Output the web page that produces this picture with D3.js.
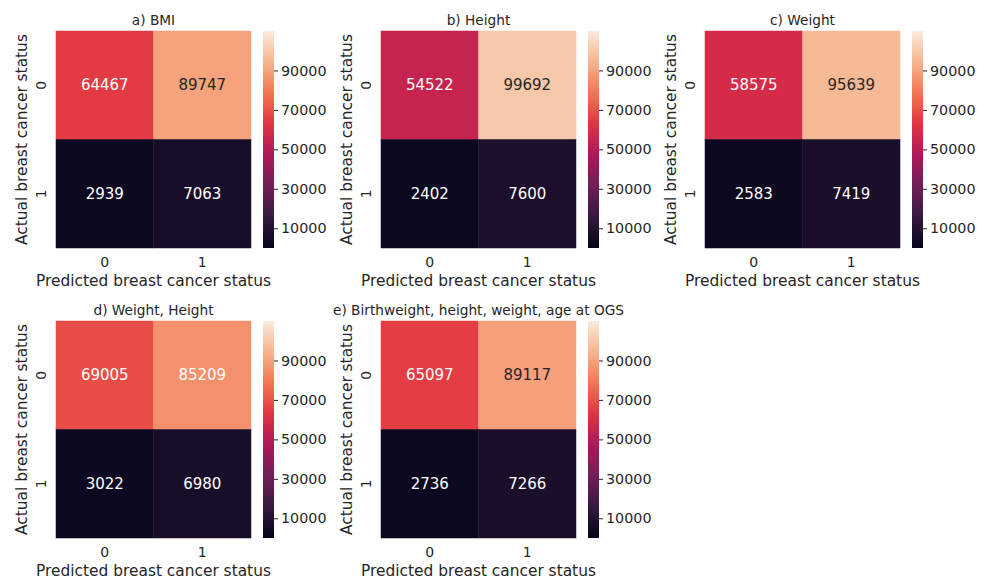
<!DOCTYPE html>
<html>
<head>
<meta charset="utf-8">
<script src="https://cdn.jsdelivr.net/npm/d3@7"></script>
<style>
  html, body { margin: 0; padding: 0; background: #ffffff; }
  svg { display: block; font-family: "DejaVu Sans", sans-serif; }
</style>
</head>
<body>
<svg id="chart" width="988" height="580"></svg>
<script>
// ---- data ----
const panelTitles = ["a) BMI", "b) Height", "c) Weight", "d) Weight, Height", "e) Birthweight, height, weight, age at OGS"];
const actualLabels = ["0", "1"];
const predictedLabels = ["0", "1"];
// each: [actual0-pred0, actual0-pred1, actual1-pred0, actual1-pred1]
const bmiValues = [64467, 89747, 2939, 7063];
const heightValues = [54522, 99692, 2402, 7600];
const weightValues = [58575, 95639, 2583, 7419];
const weightHeightValues = [69005, 85209, 3022, 6980];
const combinedValues = [65097, 89117, 2736, 7266];
const colorbarTicks = [10000, 30000, 50000, 70000, 90000];
const colorDomain = [0, 110000];
const xAxisLabel = "Predicted breast cancer status";
const yAxisLabel = "Actual breast cancer status";

const allValues = [bmiValues, heightValues, weightValues, weightHeightValues, combinedValues];

// seaborn "rocket" colormap approximation
const rocketStops = ["#03051a", "#35193e", "#701f57", "#ad1759", "#e13342", "#f37651", "#f6b48f", "#faebdd"];
const rocket = d3.piecewise(d3.interpolateRgb, rocketStops);
const color = d3.scaleSequential(rocket).domain(colorDomain);

const svg = d3.select("#chart");
const textColor = "#262626";

const W = 195, H = 217;
const positions = [
  [56, 31], [381, 31], [705, 31],
  [56, 321], [381, 321]
];

// gradient
const defs = svg.append("defs");
const grad = defs.append("linearGradient").attr("id", "cbgrad")
  .attr("x1", 0).attr("y1", 1).attr("x2", 0).attr("y2", 0);
d3.range(0, 1.0001, 0.02).forEach(t => {
  grad.append("stop").attr("offset", t).attr("stop-color", rocket(t));
});

function luminance(c) {
  const rgb = d3.rgb(c);
  const f = v => { v /= 255; return v <= 0.03928 ? v / 12.92 : Math.pow((v + 0.055) / 1.055, 2.4); };
  return 0.2126 * f(rgb.r) + 0.7152 * f(rgb.g) + 0.0722 * f(rgb.b);
}

allValues.forEach((vals, i) => {
  const [x0, y0] = positions[i];
  const g = svg.append("g").attr("transform", `translate(${x0},${y0})`);
  const x = d3.scaleBand().domain(predictedLabels).range([0, W]);
  const y = d3.scaleBand().domain(actualLabels).range([0, H]);

  const cells = [];
  actualLabels.forEach((a, ai) => predictedLabels.forEach((p, pi) => {
    cells.push({ a, p, v: vals[ai * 2 + pi] });
  }));

  g.selectAll("rect.cell").data(cells).enter().append("rect")
    .attr("class", "cell")
    .attr("x", d => x(d.p)).attr("y", d => y(d.a))
    .attr("width", x.bandwidth()).attr("height", y.bandwidth())
    .attr("fill", d => color(d.v))
    .attr("stroke", d => color(d.v)).attr("stroke-width", 0.5);

  g.selectAll("text.ann").data(cells).enter().append("text")
    .attr("class", "ann")
    .attr("x", d => x(d.p) + x.bandwidth() / 2)
    .attr("y", d => y(d.a) + y.bandwidth() / 2)
    .attr("text-anchor", "middle").attr("dominant-baseline", "central")
    .attr("font-size", 15)
    .attr("fill", d => luminance(color(d.v)) > 0.408 ? textColor : "#ffffff")
    .text(d => d.v);

  // title
  g.append("text").attr("x", W / 2).attr("y", -6)
    .attr("text-anchor", "middle").attr("font-size", 13.7).attr("fill", textColor)
    .text(panelTitles[i]);

  // x tick labels
  g.selectAll("text.xt").data(predictedLabels).enter().append("text")
    .attr("x", d => x(d) + x.bandwidth() / 2).attr("y", H + 14)
    .attr("text-anchor", "middle").attr("dominant-baseline", "central")
    .attr("font-size", 14).attr("fill", textColor).text(d => d);
  g.append("text").attr("x", W / 2).attr("y", H + 32.5)
    .attr("text-anchor", "middle").attr("dominant-baseline", "central")
    .attr("font-size", 15.4).attr("fill", textColor).text(xAxisLabel);

  // y tick labels (rotated)
  g.selectAll("text.yt").data(actualLabels).enter().append("text")
    .attr("transform", d => `translate(-15,${y(d) + y.bandwidth() / 2}) rotate(-90)`)
    .attr("text-anchor", "middle").attr("dominant-baseline", "central")
    .attr("font-size", 14).attr("fill", textColor).text(d => d);
  g.append("text")
    .attr("transform", `translate(-34,${H / 2}) rotate(-90)`)
    .attr("text-anchor", "middle").attr("dominant-baseline", "central")
    .attr("font-size", 15.4).attr("fill", textColor).text(yAxisLabel);

  // colorbar
  const cbX = W + 12, cbW = 11;
  const cb = g.append("g").attr("transform", `translate(${cbX},0)`);
  cb.append("rect").attr("width", cbW).attr("height", H).attr("fill", "url(#cbgrad)");
  const cy = d3.scaleLinear().domain(colorDomain).range([H, 0]);
  const axis = d3.axisRight(cy).tickValues(colorbarTicks).tickSize(4).tickPadding(3).tickFormat(d3.format("d"));
  const ax = cb.append("g").attr("transform", `translate(${cbW},0)`).call(axis);
  ax.select(".domain").remove();
  ax.selectAll("line").attr("stroke", textColor).attr("stroke-width", 1);
  ax.selectAll("text").attr("font-size", 14.3).attr("fill", textColor).attr("font-family", "DejaVu Sans, sans-serif");
});
</script>
</body>
</html>
